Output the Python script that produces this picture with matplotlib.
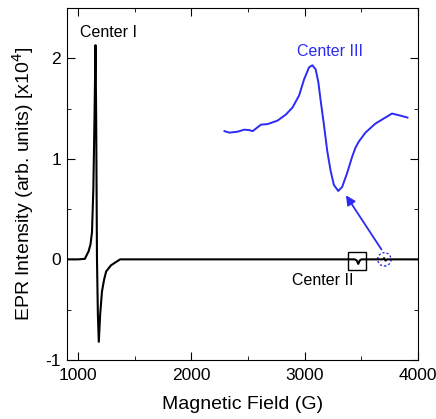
import matplotlib
matplotlib.use('Agg')
import matplotlib.pyplot as plt
from matplotlib.patches import Rectangle, Ellipse
from matplotlib.ticker import MultipleLocator

plt.rcParams['font.family'] = ['Liberation Sans', 'DejaVu Sans']
plt.rcParams['axes.unicode_minus'] = False

# black spectrum (Center I + Center II), field in G, intensity in x10^4
field_all = [900, 1000, 1060, 1093, 1110, 1123, 1135, 1145, 1154, 1160, 1167, 1175, 1183,
             1195, 1211, 1230, 1248, 1290, 1330, 1371, 3440, 3458, 3472, 3486, 3500,
             3690, 3700, 3712, 3725, 4000]
epr_all = [0, 0, 0.005, 0.08, 0.15, 0.27, 0.7, 1.4, 2.13, 1.4, 0.0, -0.55, -0.82,
           -0.55, -0.32, -0.2, -0.12, -0.06, -0.03, 0, 0, -0.01, -0.045, -0.01, 0,
           0, 0.012, -0.012, 0, 0]

# blue magnified spectrum (Center III)
field_c3 = [2292, 2336, 2409, 2467, 2511, 2540, 2614, 2672, 2760, 2833, 2892, 2950,
            2994, 3038, 3067, 3096, 3120, 3140, 3170, 3198, 3228, 3257, 3295, 3330,
            3374, 3418, 3447, 3476, 3535, 3623, 3711, 3769, 3842, 3906]
epr_c3 = [1.275, 1.26, 1.27, 1.29, 1.285, 1.275, 1.34, 1.345, 1.38, 1.44, 1.51, 1.63,
          1.79, 1.91, 1.93, 1.89, 1.76, 1.58, 1.33, 1.08, 0.88, 0.74, 0.68, 0.72,
          0.86, 1.02, 1.11, 1.17, 1.26, 1.35, 1.41, 1.45, 1.43, 1.41]

blue = '#2b2bf5'

fig = plt.figure(figsize=(4.36, 4.19), dpi=100)
ax = fig.add_axes([0.153, 0.141, 0.806, 0.840])

ax.plot(field_all, epr_all, color='black', lw=1.5)
ax.plot(field_c3, epr_c3, color=blue, lw=1.4)

ax.add_patch(Rectangle((3380, -0.11), 164, 0.187, fill=False, edgecolor='black', lw=1.0))
ax.add_patch(Ellipse((3702, 0), 118, 0.133, fill=False, edgecolor=blue, lw=1.0, linestyle=(0, (1.5, 1.5))))
ax.annotate('', xy=(3350, 0.66), xytext=(3690, 0.075),
            arrowprops=dict(arrowstyle='-|>', color=blue, lw=1.3, mutation_scale=14))

ax.text(1266, 2.26, 'Center I', ha='center', va='center', fontsize=11.5)
ax.text(3222, 2.07, 'Center III', ha='center', va='center', fontsize=11.5, color=blue)
ax.text(3155, -0.21, 'Center II', ha='center', va='center', fontsize=11.5)

ax.set_xlim(900, 4000)
ax.set_ylim(-1, 2.5)
ax.xaxis.set_major_locator(MultipleLocator(1000))
ax.xaxis.set_minor_locator(MultipleLocator(500))
ax.yaxis.set_major_locator(MultipleLocator(1))
ax.yaxis.set_minor_locator(MultipleLocator(0.5))
ax.tick_params(which='both', direction='in', top=True, right=True, labelsize=12.5)
ax.tick_params(which='major', length=6)
ax.tick_params(which='minor', length=3)
ax.tick_params(axis='x', which='major', pad=6)
ax.tick_params(axis='y', which='major', pad=4)
ax.set_xlabel('Magnetic Field (G)', fontsize=14, labelpad=9)
ax.set_ylabel('EPR Intensity (arb. units) [x10$^4$]', fontsize=14, labelpad=7)

plt.savefig('out.png', dpi=100)
plt.close()
